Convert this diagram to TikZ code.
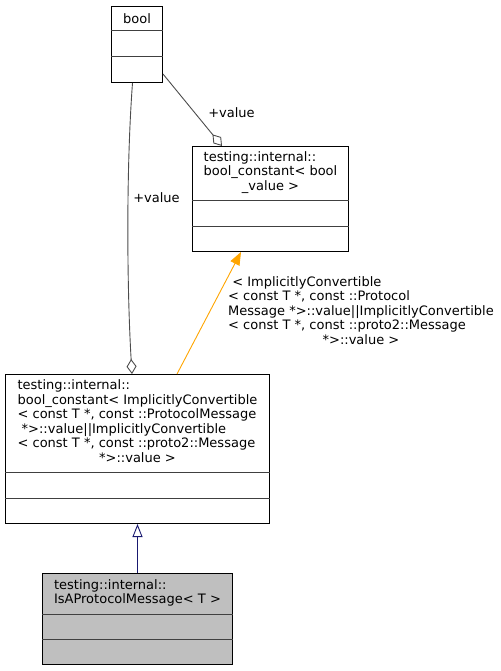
\documentclass[tikz,border=0pt]{standalone}
\usepackage{fontspec}
\setmainfont{DejaVu Sans}
\usetikzlibrary{arrows.meta,calc}
\definecolor{implorange}{RGB}{255,165,0}
\definecolor{inhnavy}{RGB}{25,25,112}
\definecolor{classgray}{RGB}{191,191,191}
\newcommand\splitbox[2]{\draw[divider] ($(#1.north west)+(0,#2)$) -- ($(#1.north east)+(0,#2)$);}
\begin{document}
\begin{tikzpicture}[x=1pt,y=-1pt,
  lbl/.style={font=\fontsize{13}{14.5}\selectfont, inner sep=0pt, text=black},
  cls/.style={draw=black, line width=1pt, fill=white, inner sep=0pt, anchor=north west},
  divider/.style={draw=black!75, line width=1pt},
  agg/.style={draw=black!70, line width=0.9pt, {Diamond[open,length=15pt,width=10pt]}-},
  impl/.style={draw=implorange, line width=0.9pt, -{Triangle[length=13pt,width=10pt,fill=implorange]}},
  inh/.style={draw=inhnavy, line width=0.9pt, -{Triangle[open,length=13pt,width=10pt]}}
]
\useasboundingbox (0,0) rectangle (500,671);

% class boxes
\node[cls, minimum width=51pt, minimum height=76pt] (bool) at (111,6) {};
\splitbox{bool}{25}
\splitbox{bool}{51}
\node[lbl] (boolT) at ($(bool.north)+(0,12.5)$) {bool};

\node[cls, minimum width=156pt, minimum height=105pt] (bc) at (192,146) {};
\splitbox{bc}{54}
\splitbox{bc}{80}
\node[lbl] (bcT) at ($(bc.north)+(0,27)$) {\begin{tabular}{@{}l@{}}testing::internal::\\bool\_constant< bool\\\multicolumn{1}{@{}c@{}}{\_value >}\end{tabular}};

\node[cls, minimum width=264pt, minimum height=149pt] (big) at (5,374) {};
\splitbox{big}{98}
\splitbox{big}{124}
\node[lbl] (bigT) at ($(big.north)+(0,49)$) {\begin{tabular}{@{}l@{}}testing::internal::\\bool\_constant< ImplicitlyConvertible\\< const T *, const ::ProtocolMessage\\\ *>::value||ImplicitlyConvertible\\< const T *, const ::proto2::Message\\\multicolumn{1}{@{}c@{}}{*>::value >}\end{tabular}};

\node[cls, fill=classgray, minimum width=190pt, minimum height=91pt] (isa) at (42,573) {};
\splitbox{isa}{41}
\splitbox{isa}{66}
\node[lbl] (isaT) at ($(isa.north)+(0,20.5)$) {\begin{tabular}{@{}l@{}}testing::internal::\\IsAProtocolMessage< T >\end{tabular}};

% connectors
\draw[agg] ($(bc.north west)+(30,0)$) -- ($(bool.north east)+(0,68)$);
\draw[agg] ($(big.north west)+(127,0)$) .. controls (127,290) and (126,170) .. ($(bool.south west)+(21.5,0)$);
\draw[impl] ($(big.north west)+(172,0)$) -- ($(bc.south west)+(49,0)$);
\draw[inh] (isa.north) -- (big.south);

% connector labels
\node[lbl] (v1) at (231.5,113) {+value};
\node[lbl] (v2) at (156.5,197.5) {+value};
\node[lbl, anchor=north west] (ilbl) at (228,276) {\begin{tabular}{@{}l@{}}\ < ImplicitlyConvertible\\< const T *, const ::Protocol\\Message *>::value||ImplicitlyConvertible\\< const T *, const ::proto2::Message\\\multicolumn{1}{@{}c@{}}{*>::value >}\end{tabular}};
\end{tikzpicture}
\end{document}
